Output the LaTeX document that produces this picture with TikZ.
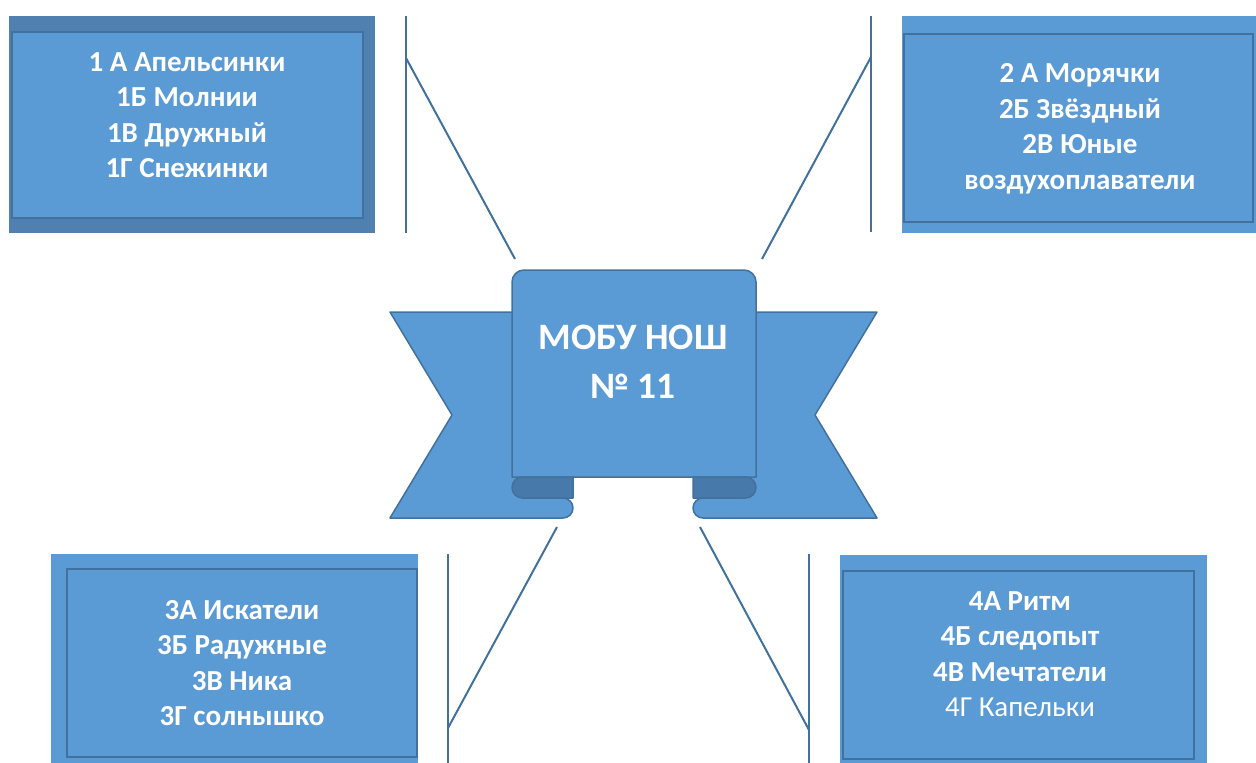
\documentclass[tikz,border=0pt]{standalone}
\usepackage{fontspec}
\setmainfont{Carlito}
\usepackage{tikz}
\definecolor{boxblue}{HTML}{5B9BD5}
\definecolor{boxline}{HTML}{41719C}
\definecolor{framedark}{HTML}{5080B0}
\definecolor{folddark}{HTML}{477AAB}
\newcommand{\boxfont}{\fontsize{29}{35.5}\selectfont\bfseries}
\newcommand{\bannerfont}{\fontsize{37.3}{49}\selectfont\bfseries}

\begin{document}
\begin{tikzpicture}[x=1pt,y=-1pt,
	frame/.style={rectangle,fill=#1,inner sep=0,outer sep=0},
	classbox/.style={rectangle,fill=boxblue,draw=boxline,line width=2.5,inner sep=0,outer sep=0},
	classtext/.style={text=white,align=center,font=\boxfont,inner sep=0},
	callout/.style={draw=boxline,line width=2},
	ribbon/.style={fill=boxblue,draw=boxline,line width=1.5,line join=round}]
	\useasboundingbox (0,0) rectangle (1256,763);

	% class boxes
	\node[frame=framedark,minimum width=366,minimum height=217] (frame1) at (192,124.5) {};
	\node[classbox,minimum width=351,minimum height=186] (box1) at (187.5,125) {};
	\node[classtext] (txt1) at (187,115) {1 А Апельсинки\\1Б Молнии\\1В Дружный\\1Г Снежинки};

	\node[frame=boxblue,minimum width=354,minimum height=217] (frame2) at (1079,124.5) {};
	\node[classbox,minimum width=349,minimum height=188] (box2) at (1078.5,128) {};
	\node[classtext] (txt2) at (1080,129) {2 А Морячки\\2Б Звёздный\\2В Юные\\воздухоплаватели};

	\node[frame=boxblue,minimum width=367,minimum height=209] (frame3) at (234.5,658.5) {};
	\node[classbox,minimum width=350,minimum height=188] (box3) at (242,663) {};
	\node[classtext] (txt3) at (242,663) {3А Искатели\\3Б Радужные\\3В Ника\\3Г солнышко};

	\node[frame=boxblue,minimum width=367,minimum height=208] (frame4) at (1023.5,659) {};
	\node[classbox,minimum width=351,minimum height=188] (box4) at (1018.5,665) {};
	\node[classtext] (txt4) at (1020,654) {4А Ритм\\4Б следопыт\\4В Мечтатели\\\textmd{4Г Капельки}};

	% ribbon
	\draw[ribbon] (390,312) -- (530,312) -- (530,518) -- (390,518) -- (452,415) -- cycle;
	\draw[ribbon] (877,312) -- (730,312) -- (730,518) -- (877,518) -- (815,415) -- cycle;
	\draw[ribbon] (512,477) -- (512,282) arc[start angle=180,end angle=270,radius=12]
		-- (744,270) arc[start angle=270,end angle=360,radius=12] -- (756,477) -- cycle;
	\draw[ribbon,fill=folddark] (573,477) -- (522.5,477) arc[start angle=270,end angle=90,radius=10.5] -- (573,498) -- cycle;
	\draw[ribbon,fill=folddark] (693,477) -- (745.5,477) arc[start angle=-90,end angle=90,radius=10.5] -- (693,498) -- cycle;
	\filldraw[ribbon] (527,498) -- (563,498) arc[start angle=-90,end angle=90,radius=10] -- (527,518);
	\filldraw[ribbon] (733,498) -- (703,498) arc[start angle=270,end angle=90,radius=10] -- (733,518);
	\node[text=white,align=center,font=\bannerfont,inner sep=0] (school) at (633,362) {МОБУ НОШ\\№ 11};

	% callout lines
	\coordinate (top1) at (406,16);
	\coordinate (bot1) at (406,233);
	\coordinate (knee1) at (406,58);
	\coordinate (tip1) at (515,259);
	\coordinate (top2) at (871,16);
	\coordinate (bot2) at (871,232);
	\coordinate (knee2) at (871,57);
	\coordinate (tip2) at (762,259);
	\coordinate (top3) at (448,554);
	\coordinate (bot3) at (448,763);
	\coordinate (knee3) at (448,728);
	\coordinate (tip3) at (557,527);
	\coordinate (top4) at (809,554);
	\coordinate (bot4) at (809,763);
	\coordinate (knee4) at (809,730);
	\coordinate (tip4) at (700,527);
	\draw[callout] (top1) -- (bot1);
	\draw[callout] (knee1) -- (tip1);
	\draw[callout] (top2) -- (bot2);
	\draw[callout] (knee2) -- (tip2);
	\draw[callout] (top3) -- (bot3);
	\draw[callout] (knee3) -- (tip3);
	\draw[callout] (top4) -- (bot4);
	\draw[callout] (knee4) -- (tip4);
\end{tikzpicture}
\end{document}
